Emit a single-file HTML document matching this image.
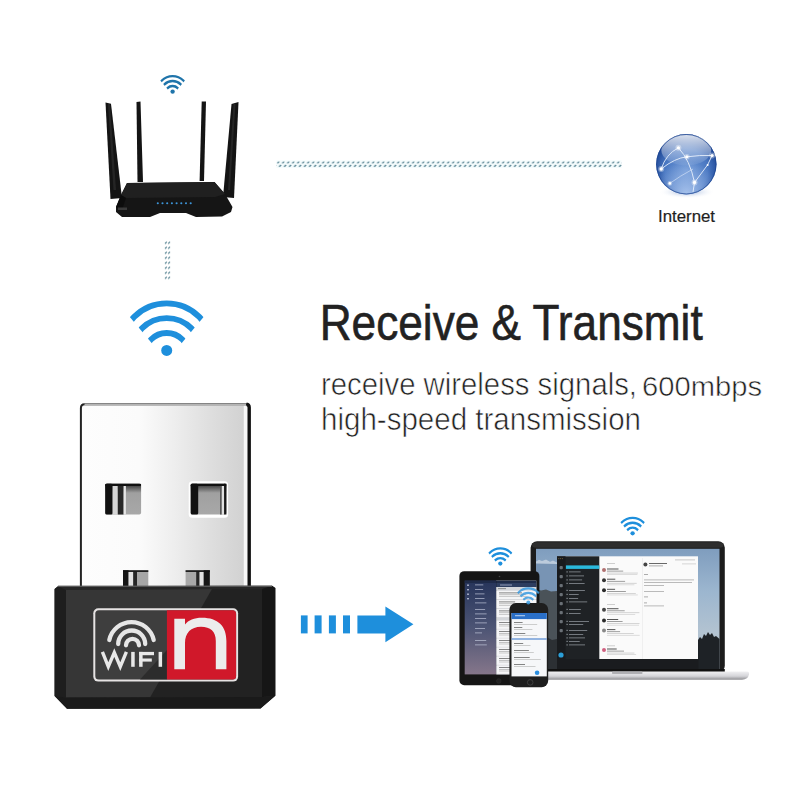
<!DOCTYPE html>
<html><head><meta charset="utf-8">
<style>
html,body{margin:0;padding:0;background:#fff;width:800px;height:800px;overflow:hidden}
svg{position:absolute;left:0;top:0;display:block}
text{font-family:"Liberation Sans",sans-serif}
</style></head>
<body>
<svg width="800" height="800" viewBox="0 0 800 800">
<defs>
  <clipPath id="wedge"><polygon points="0,10.6 -70,-72.8 70,-72.8"/></clipPath>
  <g id="wifi">
    <g clip-path="url(#wedge)" fill="none" stroke-width="5.8">
      <circle cy="-1" r="46.05"/>
      <circle cy="2.8" r="35.1"/>
      <circle cy="4.8" r="22.2"/>
    </g>
    <circle r="5.5" stroke="none"/>
  </g>
  <g id="wifis">
    <g clip-path="url(#wedge)" fill="none" stroke-width="7">
      <circle cy="-1" r="45.5"/>
      <circle cy="2.8" r="34.5"/>
      <circle cy="4.8" r="21.6"/>
    </g>
    <circle r="6.5" stroke="none"/>
  </g>
  <radialGradient id="globeG" cx="0.5" cy="0.6" r="0.55">
    <stop offset="0" stop-color="#6f98d6"/>
    <stop offset="0.65" stop-color="#4a78c2"/>
    <stop offset="1" stop-color="#1e4796"/>
  </radialGradient>
  <linearGradient id="globeHi" x1="0" x2="0" y1="0" y2="1">
    <stop offset="0" stop-color="#ffffff" stop-opacity="0.85"/>
    <stop offset="0.6" stop-color="#ffffff" stop-opacity="0.35"/>
    <stop offset="1" stop-color="#ffffff" stop-opacity="0.05"/>
  </linearGradient>
  <radialGradient id="globeBot" cx="0.5" cy="1" r="0.55">
    <stop offset="0" stop-color="#b8d0f4" stop-opacity="0.85"/>
    <stop offset="1" stop-color="#b8d0f4" stop-opacity="0"/>
  </radialGradient>
  <radialGradient id="globeShadow" cx="0.5" cy="0.5" r="0.5">
    <stop offset="0" stop-color="#7f9cd0" stop-opacity="0.9"/>
    <stop offset="1" stop-color="#ffffff" stop-opacity="0"/>
  </radialGradient>
  <linearGradient id="metalH" x1="80" x2="251" y1="0" y2="0" gradientUnits="userSpaceOnUse">
    <stop offset="0" stop-color="#fdfdfd"/>
    <stop offset="0.35" stop-color="#fbfbfb"/>
    <stop offset="0.56" stop-color="#ededed"/>
    <stop offset="0.78" stop-color="#dddddd"/>
    <stop offset="0.955" stop-color="#d2d2d2"/>
    <stop offset="0.96" stop-color="#f8f8f8"/>
    <stop offset="1" stop-color="#f8f8f8"/>
  </linearGradient>
  <linearGradient id="holeG" x1="0" x2="0" y1="0" y2="1">
    <stop offset="0" stop-color="#2a2a2a"/>
    <stop offset="0.3" stop-color="#a0a0a0"/>
    <stop offset="1" stop-color="#a8a8a8"/>
  </linearGradient>
  <linearGradient id="tabL" x1="0" x2="0" y1="0" y2="1">
    <stop offset="0" stop-color="#26345a"/>
    <stop offset="0.5" stop-color="#4c5474"/>
    <stop offset="1" stop-color="#85768a"/>
  </linearGradient>
  <linearGradient id="sky" x1="0" x2="0" y1="549" y2="670" gradientUnits="userSpaceOnUse">
    <stop offset="0" stop-color="#7f9dbe"/>
    <stop offset="0.35" stop-color="#9cb6cf"/>
    <stop offset="0.7" stop-color="#b3c3d1"/>
    <stop offset="1" stop-color="#a8b4c0"/>
  </linearGradient>
  <linearGradient id="base" x1="0" x2="0" y1="671.5" y2="680" gradientUnits="userSpaceOnUse">
    <stop offset="0" stop-color="#f0f0f2"/>
    <stop offset="0.55" stop-color="#d4d4d8"/>
    <stop offset="1" stop-color="#8a8a8e"/>
  </linearGradient>
  <pattern id="dotsH" x="276.7" y="160" width="5" height="8" patternUnits="userSpaceOnUse">
    <line x1="0.6" y1="3.4" x2="2.4" y2="1.6" stroke="#4c7b8a" stroke-width="1.25"/>
    <line x1="2.5" y1="6.8" x2="4.3" y2="5.0" stroke="#4c7b8a" stroke-width="1.25"/>
  </pattern>
  <pattern id="dotsV" x="163" y="240.3" width="9" height="5" patternUnits="userSpaceOnUse">
    <line x1="2" y1="3.4" x2="3.8" y2="1.6" stroke="#4c7b8a" stroke-width="1.25"/>
    <line x1="5.2" y1="3.4" x2="7" y2="1.6" stroke="#4c7b8a" stroke-width="1.25"/>
  </pattern>
</defs>

<use href="#wifis" transform="translate(172.6,91.6) scale(0.334)" fill="#1f74aa" stroke="#1f74aa"/>
<g fill="#141414">
  <polygon points="105.5,102.5 111,103.8 122,198 110.5,199"/>
  <polygon points="136.5,102 140.5,101.5 143,182 137.5,182"/>
  <polygon points="201.7,101.5 206,101.5 204,181 199.6,181"/>
  <polygon points="231.5,104 238.5,102 234,198 223,197"/>
</g>
<g fill="#2a2a2a" opacity="0.8">
  <polygon points="108,104 110,104.3 116,190 113.5,190"/>
  <polygon points="233.5,104 235.5,103.5 230,190 228,190"/>
</g>
<polygon points="127,183 214.5,182 225,194 232.5,207 231,212 222,216.5 196,217 186,213 160,213 150,217 122,217 116,212 116,207 121,195" fill="#151515"/>
<polygon points="127,183 214.5,182 225,194 215,197 126,198 121,195" fill="#202020"/>
<polygon points="116,207 121,195 126,198 122,210" fill="#0c0c0c"/>
<rect x="118" y="207.5" width="9" height="2.5" fill="#3a3a3a"/>
<g fill="#3d95d8">
<circle cx="157.8" cy="203.2" r="1.05"/>
<circle cx="162.5" cy="203.2" r="1.05"/>
<circle cx="167.2" cy="203.2" r="1.05"/>
<circle cx="171.9" cy="203.2" r="1.05"/>
<circle cx="176.6" cy="203.2" r="1.05"/>
<circle cx="181.3" cy="203.2" r="1.05"/>
<circle cx="186.0" cy="203.2" r="1.05"/>
<circle cx="190.7" cy="203.2" r="1.05"/>
</g>
<rect x="276.5" y="160.3" width="345" height="7.6" fill="#e6f7f8" opacity="0.45"/>
<rect x="276.5" y="160" width="345.5" height="8" fill="url(#dotsH)"/>
<rect x="163" y="240.3" width="9" height="40" fill="url(#dotsV)"/>
<ellipse cx="687" cy="192" rx="28" ry="6.5" fill="url(#globeShadow)"/>
<circle cx="686.3" cy="164.2" r="30.2" fill="url(#globeG)"/>
<circle cx="686.3" cy="164.2" r="30.2" fill="url(#globeBot)"/>
<ellipse cx="686.3" cy="150" rx="25" ry="15.5" fill="url(#globeHi)"/>
<circle cx="686.3" cy="164.2" r="29.7" fill="none" stroke="#1d4590" stroke-width="1" opacity="0.7"/>
<g fill="none" stroke="#eef5ff" stroke-width="1" opacity="0.85">
  <path d="M661.2,169 Q666,154 678.4,147.8"/>
  <path d="M678.4,147.8 Q690,160 694.5,182.5 L693,192"/>
  <path d="M661.2,169 Q675,158 686.9,156.8 Q700,155 712.1,155.5"/>
  <path d="M712.1,155.5 L707.6,164.9 L694.5,182.5"/>
  <path d="M669.8,183.4 Q680,176 693,169" opacity="0.6"/>
</g>
<g fill="#ffffff" opacity="0.35">
  <circle cx="678.4" cy="147.8" r="3"/><circle cx="686.9" cy="156.8" r="2.8"/><circle cx="712.1" cy="155.5" r="3"/>
  <circle cx="661.2" cy="169" r="3"/><circle cx="694.5" cy="182.5" r="3"/><circle cx="669.8" cy="183.4" r="2.4"/>
</g>
<g fill="#ffffff">
  <circle cx="678.4" cy="147.8" r="1.6"/><circle cx="686.9" cy="156.8" r="1.5"/><circle cx="712.1" cy="155.5" r="1.6"/>
  <circle cx="661.2" cy="169" r="1.7"/><circle cx="694.5" cy="182.5" r="1.7"/><circle cx="669.8" cy="183.4" r="1.3"/><circle cx="707.6" cy="164.9" r="1"/>
</g>
<text x="658" y="221.5" font-size="16" fill="#1e1e1e" stroke="#1e1e1e" stroke-width="0.2" textLength="57" lengthAdjust="spacingAndGlyphs">Internet</text>

<use href="#wifi" transform="translate(166.7,350.4)" fill="#1e8fdc" stroke="#1e8fdc"/>
<text x="319.7" y="340" font-size="50" fill="#222" stroke="#222" stroke-width="0.6" textLength="383" lengthAdjust="spacingAndGlyphs">Receive &amp; Transmit</text>
<text x="321" y="395" font-size="32" fill="#222" stroke="#fff" stroke-width="0.65" textLength="316" lengthAdjust="spacingAndGlyphs">receive wireless signals,</text>
<text x="642" y="395.8" font-size="27" fill="#222" stroke="#fff" stroke-width="0.55" textLength="120" lengthAdjust="spacingAndGlyphs">600mbps</text>
<text x="321" y="430" font-size="32" fill="#222" stroke="#fff" stroke-width="0.65" textLength="320" lengthAdjust="spacingAndGlyphs">high-speed transmission</text>

<path d="M80,408 Q80,403.4 84.5,403.4 H247.5 Q250.8,403.4 250.8,407 V588 H80 Z" fill="url(#metalH)"/>
<path d="M81.9,407.5 Q82,405 84.5,404.9 H246" fill="none" stroke="#ebebeb" stroke-width="1.5"/>
<path d="M80.9,588 V408 Q80.9,404.2 84.5,404.2 H247" fill="none" stroke="#232323" stroke-width="2"/>
<path d="M84.5,404.2 H246" stroke="#b4b4b4" stroke-width="1.6"/>
<path d="M249.2,588 V407.5 Q249.2,404.5 246.5,404.2" fill="none" stroke="#111" stroke-width="3.4"/>

<rect x="105.2" y="483.7" width="35.9" height="30.8" rx="1.8" fill="url(#holeG)"/>
<rect x="105.2" y="483.7" width="7.5" height="30.8" rx="1.5" fill="#111"/>
<rect x="112.6" y="485.5" width="5.2" height="29" fill="#d6d6d6"/>
<rect x="117.8" y="485.5" width="5.8" height="29" fill="#282828"/>
<rect x="123.6" y="485.5" width="2.3" height="29" fill="#e6e6e6"/>
<rect x="105.2" y="483.7" width="35.9" height="2.3" rx="1" fill="#111"/>

<rect x="188.7" y="481.2" width="39.4" height="36.5" rx="3.5" fill="#ffffff"/>
<rect x="190.7" y="483.7" width="35.7" height="30.8" rx="1.8" fill="url(#holeG)"/>
<rect x="190.7" y="483.7" width="7.5" height="30.8" rx="1.5" fill="#111"/>
<rect x="220" y="485.5" width="1.8" height="29" fill="#555"/>
<rect x="221.8" y="485.5" width="2.3" height="29" fill="#e0e0e0"/>
<rect x="224.1" y="483.7" width="2.3" height="30.8" fill="#181818"/>
<rect x="190.7" y="483.7" width="35.7" height="2.3" rx="1" fill="#111"/>

<rect x="123" y="570.3" width="25.3" height="16.5" fill="#a6a6a6"/>
<rect x="123" y="570.3" width="5.6" height="16.5" fill="#161616"/>
<rect x="128.6" y="571.5" width="4.6" height="15.3" fill="#e2e2e2"/>
<rect x="133.2" y="571.5" width="3.8" height="15.3" fill="#262626"/>
<rect x="123" y="570.3" width="25.3" height="1.6" fill="#111"/>
<rect x="185.6" y="570.3" width="24.2" height="16.5" fill="#a8a8a8"/>
<rect x="196.2" y="571.5" width="3.4" height="15.3" fill="#262626"/>
<rect x="199.6" y="571.5" width="4.1" height="15.3" fill="#e2e2e2"/>
<rect x="203.7" y="570.3" width="6.1" height="16.5" fill="#161616"/>
<rect x="185.6" y="570.3" width="24.2" height="1.6" fill="#111"/>

<polygon points="54.6,589 58,586.3 272,585.7 275.3,588 275.3,695.7 260.5,708.5 67,708.8 54.6,696" fill="#262626"/>
<polygon points="66,590 262,589 262,697 66,697.5" fill="#363636"/>
<polygon points="212,589 262,589 262,697 150,697.5" fill="#222222"/>
<polygon points="54.6,589 58,586.3 66,590 66,697.5 54.6,696" fill="#1e1e1e"/>
<polygon points="262,589 272,585.7 275.3,588 275.3,695.7 262,697" fill="#161616"/>
<polygon points="54.6,696 66,697.5 262,697 275.3,695.7 260.5,708.5 67,708.8" fill="#1a1a1a"/>
<rect x="58" y="585.6" width="214" height="1.3" fill="#5a5a5a"/>

<rect x="93.3" y="608.3" width="144.8" height="73.3" rx="5" fill="#e6e3e3"/>
<rect x="95.3" y="610.3" width="140.8" height="69.3" rx="3.5" fill="#3e3e3e"/>
<polygon points="167,650 167,679.6 140,679.6" fill="#2a2a2a" opacity="0.9"/>
<path d="M166.9,610.3 H232.6 a3.5,3.5 0 0 1 3.5,3.5 V676.1 a3.5,3.5 0 0 1 -3.5,3.5 H166.9 Z" fill="#d0182a"/>
<path d="M174.3,669.3 V618.8 H185 V624.5 C188.5,620 194,617.7 202,617.7 C218,617.7 226.4,626 226.4,641 V669.3 H215.8 V641 C215.8,631.5 210.5,626.8 201,626.8 C191,626.8 185,633 185,643 V669.3 Z" fill="#ececec"/>
<g fill="none" stroke="#e6e6e6" stroke-width="4.3" stroke-linecap="round">
  <path d="M109.3,640 A22.7,22.7 0 0 1 153.7,640"/>
  <path d="M118.2,644 A13.5,13.5 0 0 1 145.2,644"/>
  <path d="M126,645.3 A6.5,6.5 0 0 1 139,645.3"/>
</g>
<g fill="none" stroke="#e8e8e8" stroke-width="3.4" stroke-linejoin="miter">
  <polyline points="102.4,651.9 108.3,666.6 114.3,652.6 120.3,666.6 126.4,651.9"/>
</g>
<g fill="#e8e8e8">
  <rect x="131.2" y="651.9" width="3.5" height="14.9"/>
  <rect x="139.1" y="651.9" width="3.5" height="14.9"/>
  <rect x="139.1" y="651.9" width="14.9" height="3.3"/>
  <rect x="139.1" y="658.5" width="12.7" height="3.1"/>
  <rect x="158.6" y="651.9" width="3.5" height="14.9"/>
</g>

<g fill="#1e8fdc">
  <rect x="300.9" y="615.4" width="6.7" height="18"/>
  <rect x="314.6" y="615.4" width="7" height="18"/>
  <rect x="328.9" y="615.4" width="7" height="18"/>
  <rect x="343" y="615.4" width="7" height="18"/>
  <polygon points="357.4,615.4 385.4,615.4 385.4,606.6 413.4,624.2 385.4,642.2 385.4,633.4 357.4,633.4"/>
</g>

<use href="#wifis" transform="translate(632.6,533.3) scale(0.333)" fill="#1e8fdc" stroke="#1e8fdc"/>
<use href="#wifis" transform="translate(500.3,563.6) scale(0.327)" fill="#1e8fdc" stroke="#1e8fdc"/>
<rect x="530.6" y="541.3" width="194.2" height="131" rx="6.5" fill="#1c1c1c"/>
<rect x="532" y="542.3" width="191.5" height="5.5" rx="4" fill="#2e2e2e"/>
<rect x="536" y="548.8" width="183.5" height="120.5" fill="url(#sky)"/>
<path d="M536,561.5 L539,559.8 L542,561 L546,559.5 L550,561.8 L553,560.5 L557,562.5 L557,669.3 L536,669.3 Z" fill="#7894b4"/>
<path d="M536,561.5 L539,559.8 L542,561 L546,559.5 L550,561.8 L553,560.5 L557,562.5 L557,564 L536,563.5 Z" fill="#d8e2ec" opacity="0.7"/>
<path d="M536,589 L541,590.5 L546,589.5 L551,591.5 L557,591 L557,669.3 L536,669.3 Z" fill="#4a5258"/>
<path d="M536,640 L545,636 L552,640 L557,639 L557,669.3 L536,669.3 Z" fill="#2c3034"/>
<path d="M698,640 L700,637 L702,639 L704,634 L706,636 L708,632 L710,635 L712,633 L714,637 L716,636 L719.5,639 L719.5,669.3 L698,669.3 Z" fill="#1e2226"/>
<rect x="557" y="659" width="141.5" height="10.3" fill="#1a1c1f"/>
<rect x="530.6" y="669" width="194.2" height="3.3" fill="#111"/>

<rect x="557" y="556.3" width="141" height="102.7" fill="#fafafa"/>
<rect x="557" y="556.3" width="42.3" height="102.7" fill="#1f2225"/>
<rect x="557" y="556.3" width="8.5" height="102.7" fill="#191b1e"/>
<rect x="565.9" y="565.4" width="33.4" height="3.5" fill="#2ab8dc"/>
<circle cx="561" cy="655" r="2.6" fill="#2b9fd8"/>
<g fill="#6a5a3a"><circle cx="558.8" cy="558.6" r="0.6"/><circle cx="560.6" cy="558.6" r="0.6"/><circle cx="562.4" cy="558.6" r="0.6"/></g>
<g fill="#8a9096">
<rect x="569" y="571.5" width="11.6" height="0.8"/>
<rect x="566.5" y="571.3" width="1.2" height="1.2"/>
<rect x="569" y="575.5" width="15.0" height="0.8"/>
<rect x="566.5" y="575.3" width="1.2" height="1.2"/>
<rect x="569" y="579.5" width="13.1" height="0.8"/>
<rect x="566.5" y="579.3" width="1.2" height="1.2"/>
<rect x="569" y="583" width="15.6" height="0.8"/>
<rect x="566.5" y="582.8" width="1.2" height="1.2"/>
<rect x="569" y="590" width="15.9" height="0.8"/>
<rect x="566.5" y="589.8" width="1.2" height="1.2"/>
<rect x="569" y="594" width="9.7" height="0.8"/>
<rect x="566.5" y="593.8" width="1.2" height="1.2"/>
<rect x="569" y="598" width="9.1" height="0.8"/>
<rect x="566.5" y="597.8" width="1.2" height="1.2"/>
<rect x="569" y="601.5" width="18.2" height="0.8"/>
<rect x="566.5" y="601.3" width="1.2" height="1.2"/>
<rect x="569" y="609" width="11.9" height="0.8"/>
<rect x="566.5" y="608.8" width="1.2" height="1.2"/>
<rect x="569" y="613" width="11.6" height="0.8"/>
<rect x="566.5" y="612.8" width="1.2" height="1.2"/>
<rect x="569" y="621" width="20.0" height="0.8"/>
<rect x="566.5" y="620.8" width="1.2" height="1.2"/>
<rect x="569" y="624" width="14.2" height="0.8"/>
<rect x="566.5" y="623.8" width="1.2" height="1.2"/>
<rect x="569" y="630" width="18.2" height="0.8"/>
<rect x="566.5" y="629.8" width="1.2" height="1.2"/>
<rect x="569" y="634" width="14.2" height="0.8"/>
<rect x="566.5" y="633.8" width="1.2" height="1.2"/>
<rect x="569" y="637.5" width="16.0" height="0.8"/>
<rect x="566.5" y="637.3" width="1.2" height="1.2"/>
<rect x="569" y="641" width="10.7" height="0.8"/>
<rect x="566.5" y="640.8" width="1.2" height="1.2"/>
<rect x="569" y="644.5" width="16.0" height="0.8"/>
<rect x="566.5" y="644.3" width="1.2" height="1.2"/>
</g><g fill="#6a7076">
<rect x="559.6" y="566" width="3.2" height="3.2" rx="1"/>
<rect x="559.6" y="575" width="3.2" height="3.2" rx="1"/>
<rect x="559.6" y="584" width="3.2" height="3.2" rx="1"/>
<rect x="559.6" y="593" width="3.2" height="3.2" rx="1"/>
<rect x="559.6" y="602" width="3.2" height="3.2" rx="1"/>
<rect x="559.6" y="611" width="3.2" height="3.2" rx="1"/>
<rect x="559.6" y="620" width="3.2" height="3.2" rx="1"/>
<rect x="559.6" y="629" width="3.2" height="3.2" rx="1"/>
</g>
<g>
<circle cx="604" cy="570" r="2" fill="#b07070"/>
<rect x="607" y="568.5" width="11.5" height="1" fill="#555"/>
<rect x="607" y="570.7" width="16.2" height="0.8" fill="#888"/>
<rect x="607" y="572.7" width="30.9" height="0.7" fill="#c4c4c4"/>
<rect x="607" y="574.3" width="30.4" height="0.7" fill="#d0d0d0"/>
<circle cx="604" cy="580.2" r="2" fill="#333"/>
<rect x="607" y="578.7" width="8.3" height="1" fill="#555"/>
<rect x="607" y="580.9000000000001" width="18.1" height="0.8" fill="#888"/>
<rect x="607" y="582.9000000000001" width="29.7" height="0.7" fill="#c4c4c4"/>
<rect x="607" y="584.5" width="27.4" height="0.7" fill="#d0d0d0"/>
<circle cx="604" cy="590.3" r="2" fill="#2a2a2a"/>
<rect x="607" y="588.8" width="8.1" height="1" fill="#555"/>
<rect x="607" y="591.0" width="18.9" height="0.8" fill="#888"/>
<rect x="607" y="593.0" width="28.8" height="0.7" fill="#c4c4c4"/>
<rect x="607" y="594.5999999999999" width="30.8" height="0.7" fill="#d0d0d0"/>
<circle cx="604" cy="609.7" r="2" fill="#444"/>
<rect x="607" y="608.2" width="11.5" height="1" fill="#555"/>
<rect x="607" y="610.4000000000001" width="17.7" height="0.8" fill="#888"/>
<rect x="607" y="612.4000000000001" width="32.4" height="0.7" fill="#c4c4c4"/>
<rect x="607" y="614.0" width="28.2" height="0.7" fill="#d0d0d0"/>
<circle cx="604" cy="620.5" r="2" fill="#2a2a2a"/>
<rect x="607" y="619.0" width="11.2" height="1" fill="#555"/>
<rect x="607" y="621.2" width="15.6" height="0.8" fill="#888"/>
<rect x="607" y="623.2" width="32.5" height="0.7" fill="#c4c4c4"/>
<rect x="607" y="624.8" width="32.0" height="0.7" fill="#d0d0d0"/>
<circle cx="604" cy="630.6" r="2" fill="#888"/>
<rect x="607" y="629.1" width="8.4" height="1" fill="#555"/>
<rect x="607" y="631.3000000000001" width="13.1" height="0.8" fill="#888"/>
<rect x="607" y="633.3000000000001" width="26.7" height="0.7" fill="#c4c4c4"/>
<rect x="607" y="634.9" width="32.7" height="0.7" fill="#d0d0d0"/>
<circle cx="604" cy="650" r="2" fill="#d06080"/>
<rect x="607" y="648.5" width="9.7" height="1" fill="#555"/>
<rect x="607" y="650.7" width="17.0" height="0.8" fill="#888"/>
<rect x="607" y="652.7" width="27.4" height="0.7" fill="#c4c4c4"/>
<rect x="607" y="654.3" width="29.1" height="0.7" fill="#d0d0d0"/>
<rect x="607" y="563" width="8" height="0.7" fill="#bbb"/>
<rect x="607" y="604" width="8" height="0.7" fill="#bbb"/>
<rect x="607" y="645.5" width="8" height="0.7" fill="#bbb"/>
<rect x="642.3" y="558" width="0.5" height="101" fill="#e4e4e4"/>
<circle cx="645.4" cy="564.4" r="2" fill="#444"/>
<rect x="649" y="563" width="18" height="0.8" fill="#444"/>
<rect x="649" y="565.5" width="14" height="0.8" fill="#999"/>
<rect x="644" y="574" width="4" height="0.8" fill="#999"/>
<rect x="644" y="579.5" width="50" height="0.8" fill="#aaa"/>
<rect x="644" y="582" width="48" height="0.8" fill="#aaa"/>
<rect x="644" y="585" width="20" height="0.8" fill="#aaa"/>
<rect x="644" y="591" width="20" height="0.8" fill="#aaa"/>
<rect x="644" y="596.5" width="4" height="0.8" fill="#999"/>
<rect x="644" y="602.5" width="3" height="0.8" fill="#999"/>
<rect x="644" y="605.5" width="20" height="0.8" fill="#aaa"/>
<rect x="675" y="559.5" width="20" height="0.8" fill="#bbb"/>
<rect x="682" y="563.5" width="14" height="0.8" fill="#ccc"/>
</g>
<path d="M528,671.5 H747 Q749.5,671.5 749,674.5 Q748,679.5 742,679.8 H532 Q527,679.5 527,675 Q527,671.5 528,671.5 Z" fill="url(#base)"/>
<rect x="612" y="671.5" width="30.5" height="2.6" rx="1.2" fill="#b0b0b4"/>

<rect x="459.4" y="571.2" width="80" height="114" rx="4.8" fill="#151515"/>
<rect x="464.7" y="580.6" width="31.4" height="93.8" fill="url(#tabL)"/>
<rect x="496" y="580.6" width="40.3" height="93.8" fill="#e6e7ea"/>
<rect x="496" y="580.6" width="40.3" height="2.4" fill="#1f2b47"/>
<rect x="496" y="583" width="40.3" height="4" fill="#2d3d5f"/>
<rect x="500" y="584.6" width="12" height="0.8" fill="#aab4cc"/>
<rect x="464.7" y="580.6" width="31.4" height="2.4" fill="#1e2a48"/>
<rect x="496" y="580.6" width="0.6" height="93.8" fill="#1a2030" opacity="0.6"/>
<circle cx="499.5" cy="576.5" r="0.8" fill="#444"/>
<circle cx="498.8" cy="681" r="2.3" fill="#202020" stroke="#333" stroke-width="0.5"/>
<g fill="#c8cde0" opacity="0.8">
<rect x="475" y="584.5" width="8.3" height="0.8"/>
<rect x="475" y="589" width="8.1" height="0.8"/>
<rect x="475" y="593.5" width="9.5" height="0.8"/>
<rect x="475" y="598" width="9.5" height="0.8"/>
<rect x="475" y="602.5" width="11.4" height="0.8"/>
<rect x="475" y="609" width="10.1" height="0.8"/>
<rect x="475" y="613.5" width="11.6" height="0.8"/>
<rect x="475" y="618" width="11.1" height="0.8"/>
<rect x="475" y="622.5" width="11.9" height="0.8"/>
<rect x="475" y="628" width="10.0" height="0.8"/>
<rect x="475" y="632.5" width="7.0" height="0.8"/>
<rect x="475" y="640" width="11.2" height="0.8"/>
<rect x="475" y="644.5" width="11.8" height="0.8"/>
<rect x="467" y="584.5" width="2" height="1.4"/>
<rect x="467" y="589" width="2" height="1.4"/>
<rect x="467" y="593.5" width="2" height="1.4"/>
<rect x="467" y="598" width="2" height="1.4"/>
</g><g>
<rect x="496.6" y="587" width="39.7" height="3.5" fill="#d4d6da"/>
<rect x="498" y="588.3" width="8" height="0.8" fill="#777"/>
<rect x="496.6" y="591" width="39.7" height="8.4" fill="#f5f5f7"/>
<rect x="496.6" y="599.4" width="39.7" height="0.5" fill="#c4c6ca"/>
<rect x="499" y="592.5" width="23.0" height="0.8" fill="#6a6a6a"/>
<rect x="499" y="594.5" width="26.8" height="0.6" fill="#a0a0a0"/>
<rect x="499" y="596.2" width="28.6" height="0.6" fill="#b0b0b0"/>
<rect x="496.6" y="600" width="39.7" height="8.4" fill="#f5f5f7"/>
<rect x="496.6" y="608.4" width="39.7" height="0.5" fill="#c4c6ca"/>
<rect x="499" y="601.5" width="16.1" height="0.8" fill="#6a6a6a"/>
<rect x="499" y="603.5" width="30.0" height="0.6" fill="#a0a0a0"/>
<rect x="499" y="605.2" width="26.9" height="0.6" fill="#b0b0b0"/>
<rect x="496.6" y="609" width="39.7" height="8.4" fill="#f5f5f7"/>
<rect x="496.6" y="617.4" width="39.7" height="0.5" fill="#c4c6ca"/>
<rect x="499" y="610.5" width="16.8" height="0.8" fill="#6a6a6a"/>
<rect x="499" y="612.5" width="20.8" height="0.6" fill="#a0a0a0"/>
<rect x="499" y="614.2" width="30.2" height="0.6" fill="#b0b0b0"/>
<rect x="496.6" y="620.5" width="39.7" height="8.4" fill="#f5f5f7"/>
<rect x="496.6" y="628.9" width="39.7" height="0.5" fill="#c4c6ca"/>
<rect x="499" y="622.0" width="23.9" height="0.8" fill="#6a6a6a"/>
<rect x="499" y="624.0" width="21.1" height="0.6" fill="#a0a0a0"/>
<rect x="499" y="625.7" width="29.6" height="0.6" fill="#b0b0b0"/>
<rect x="496.6" y="629.5" width="39.7" height="8.4" fill="#f5f5f7"/>
<rect x="496.6" y="637.9" width="39.7" height="0.5" fill="#c4c6ca"/>
<rect x="499" y="631.0" width="18.1" height="0.8" fill="#6a6a6a"/>
<rect x="499" y="633.0" width="21.8" height="0.6" fill="#a0a0a0"/>
<rect x="499" y="634.7" width="23.5" height="0.6" fill="#b0b0b0"/>
<rect x="496.6" y="638.5" width="39.7" height="8.4" fill="#f5f5f7"/>
<rect x="496.6" y="646.9" width="39.7" height="0.5" fill="#c4c6ca"/>
<rect x="499" y="640.0" width="21.7" height="0.8" fill="#6a6a6a"/>
<rect x="499" y="642.0" width="30.5" height="0.6" fill="#a0a0a0"/>
<rect x="499" y="643.7" width="20.5" height="0.6" fill="#b0b0b0"/>
<rect x="496.6" y="647.5" width="39.7" height="8.4" fill="#f5f5f7"/>
<rect x="496.6" y="655.9" width="39.7" height="0.5" fill="#c4c6ca"/>
<rect x="499" y="649.0" width="20.1" height="0.8" fill="#6a6a6a"/>
<rect x="499" y="651.0" width="20.5" height="0.6" fill="#a0a0a0"/>
<rect x="499" y="652.7" width="28.6" height="0.6" fill="#b0b0b0"/>
<rect x="496.6" y="656.5" width="39.7" height="8.4" fill="#f5f5f7"/>
<rect x="496.6" y="664.9" width="39.7" height="0.5" fill="#c4c6ca"/>
<rect x="499" y="658.0" width="17.3" height="0.8" fill="#6a6a6a"/>
<rect x="499" y="660.0" width="30.6" height="0.6" fill="#a0a0a0"/>
<rect x="499" y="661.7" width="31.8" height="0.6" fill="#b0b0b0"/>
<rect x="496.6" y="665.5" width="39.7" height="8.4" fill="#f5f5f7"/>
<rect x="496.6" y="673.9" width="39.7" height="0.5" fill="#c4c6ca"/>
<rect x="499" y="667.0" width="19.1" height="0.8" fill="#6a6a6a"/>
<rect x="499" y="669.0" width="32.0" height="0.6" fill="#a0a0a0"/>
<rect x="499" y="670.7" width="23.7" height="0.6" fill="#b0b0b0"/>
<rect x="496.6" y="618" width="39.7" height="2.5" fill="#d4d6da"/>
</g>
<rect x="509.4" y="603" width="38.8" height="84.2" rx="6.5" fill="#1e1e1e"/>
<rect x="511.5" y="613" width="35.3" height="63.4" fill="#f6f7f9"/>
<rect x="511.5" y="613" width="35.3" height="6.1" fill="#2a6fc8"/>
<rect x="511.5" y="638.3" width="35.3" height="1.4" fill="#6a98d8"/>
<circle cx="537.1" cy="672.8" r="2.3" fill="#2a8ee0"/>
<circle cx="530.2" cy="682.4" r="2.8" fill="none" stroke="#4a4a4a" stroke-width="0.7"/>
<rect x="515" y="615.3" width="10" height="0.9" fill="#cfe0f6"/>

<rect x="514" y="622" width="8.6" height="0.9" fill="#777"/>
<rect x="514" y="624" width="23.2" height="0.7" fill="#bbb"/>
<rect x="514" y="627" width="8.3" height="0.9" fill="#777"/>
<rect x="514" y="629" width="18.4" height="0.7" fill="#bbb"/>
<rect x="514" y="633" width="11.3" height="0.9" fill="#777"/>
<rect x="514" y="635" width="23.3" height="0.7" fill="#bbb"/>
<rect x="514" y="643" width="9.2" height="0.9" fill="#777"/>
<rect x="514" y="645" width="16.5" height="0.7" fill="#bbb"/>
<rect x="514" y="650" width="14.9" height="0.9" fill="#777"/>
<rect x="514" y="652" width="19.8" height="0.7" fill="#bbb"/>
<rect x="514" y="657" width="15.7" height="0.9" fill="#777"/>
<rect x="514" y="659" width="26.8" height="0.7" fill="#bbb"/>
<rect x="514" y="664" width="11.0" height="0.9" fill="#777"/>
<rect x="514" y="666" width="21.5" height="0.7" fill="#bbb"/>
<use href="#wifis" transform="translate(528.3,602.6) scale(0.305)" fill="#3a9be0" stroke="#3a9be0" stroke-width="1.3" opacity="0.85"/>
</svg>
</body></html>
